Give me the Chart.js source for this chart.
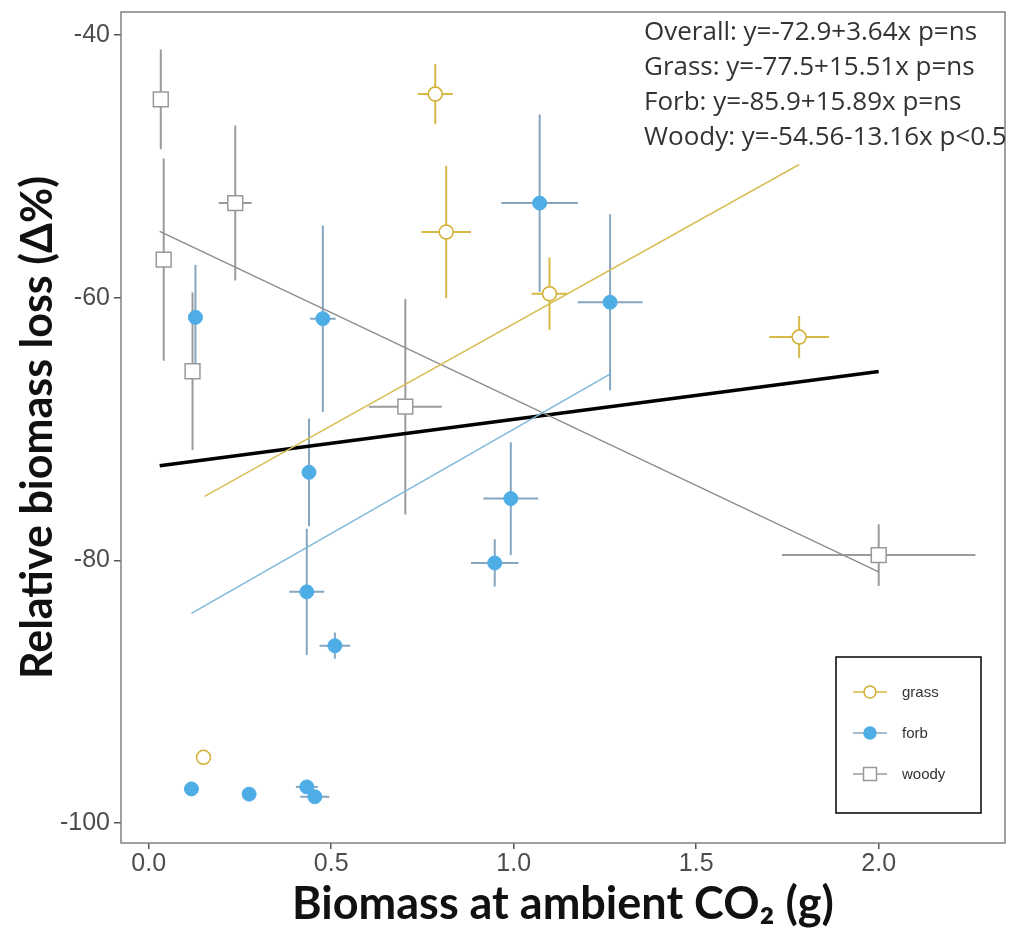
<!DOCTYPE html>
<html>
<head>
<meta charset="utf-8">
<script src="https://cdn.jsdelivr.net/npm/chart.js@4.4.0/dist/chart.umd.min.js"></script>
<style>
html, body { margin: 0; padding: 0; background: #fff; }
</style>
</head>
<body>
<canvas id="chart" width="1017" height="930"></canvas>
<script>
// tick labels
const xTicks = [0, 0.5, 1, 1.5, 2];
const yTicks = [-100, -80, -60, -40];

// grass (open circles)
const grassX = [0.785, 0.815, 1.098, 1.782, 0.15];
const grassY = [-44.5, -55.0, -59.7, -63.0, -95.0];
const grassXErr = [0.048, 0.068, 0.049, 0.082, 0];
const grassYErr = [2.3, 5.05, 2.75, 1.6, 0];

// forb (filled circles)
const forbX = [0.128, 0.477, 0.439, 0.433, 0.51, 0.992, 0.948, 1.071, 1.264, 0.117, 0.275, 0.433, 0.455];
const forbY = [-61.5, -61.6, -73.3, -82.4, -86.5, -75.3, -80.2, -52.8, -60.35, -97.4, -97.8, -97.25, -98.0];
const forbXErr = [0, 0.035, 0, 0.048, 0.042, 0.075, 0.065, 0.105, 0.089, 0, 0, 0.03, 0.04];
const forbYErr = [4.0, 7.1, 4.1, 4.8, 1.0, 4.3, 1.8, 6.75, 6.7, 0, 0, 0, 0];

// woody (open squares)
const woodyX = [0.033, 0.041, 0.237, 0.12, 0.703, 2.0];
const woodyY = [-44.9, -57.1, -52.8, -65.6, -68.3, -79.6];
const woodyXErr = [0, 0, 0.045, 0, 0.1, 0.265];
const woodyYErr = [3.8, 7.7, 5.9, 6.0, 8.2, 2.35];

// fitted lines, end points
const overallFitX = [0.03, 2.0];
const overallFitY = [-72.79, -65.62];
const grassFitX = [0.153, 1.782];
const grassFitY = [-75.13, -49.86];
const forbFitX = [0.117, 1.264];
const forbFitY = [-84.04, -65.82];
const woodyFitX = [0.03, 2.0];
const woodyFitY = [-54.95, -80.88];

const notes = [
	"Overall: y=-72.9+3.64x p=ns",
	"Grass: y=-77.5+15.51x p=ns",
	"Forb: y=-85.9+15.89x p=ns",
	"Woody: y=-54.56-13.16x p<0.5",
];

const grassCol = "#D1AE2E";
const forbCol = "#4FADE6";
const woodyCol = "#999999";

const pts = (xs, ys) => xs.map((x, i) => ({ x: x, y: ys[i] }));

const groups = [
	{ x: woodyX, y: woodyY, xe: woodyXErr, ye: woodyYErr, color: "#9B9B9B" },
	{ x: grassX, y: grassY, xe: grassXErr, ye: grassYErr, color: "#D6BA45" },
	{ x: forbX, y: forbY, xe: forbXErr, ye: forbYErr, color: "#86A6C0" },
];

const errorBars = {
	id: "errorBars",
	beforeDatasetsDraw(chart) {
		const { ctx, chartArea, scales } = chart;
		const sx = scales.x, sy = scales.y;
		ctx.save();
		ctx.beginPath();
		ctx.rect(chartArea.left, chartArea.top, chartArea.width, chartArea.height);
		ctx.clip();
		ctx.lineWidth = 2;
		groups.forEach(g => {
			ctx.strokeStyle = g.color;
			g.x.forEach((xv, i) => {
				const px = sx.getPixelForValue(xv);
				const py = sy.getPixelForValue(g.y[i]);
				ctx.beginPath();
				if (g.ye[i]) {
					ctx.moveTo(px, sy.getPixelForValue(g.y[i] + g.ye[i]));
					ctx.lineTo(px, sy.getPixelForValue(g.y[i] - g.ye[i]));
				}
				if (g.xe[i]) {
					ctx.moveTo(sx.getPixelForValue(xv - g.xe[i]), py);
					ctx.lineTo(sx.getPixelForValue(xv + g.xe[i]), py);
				}
				ctx.stroke();
			});
		});
		ctx.restore();
	},
};

const extras = {
	id: "extras",
	afterDraw(chart) {
		const { ctx, chartArea: a } = chart;
		ctx.save();
		// panel border
		ctx.strokeStyle = "#808080";
		ctx.lineWidth = 1.5;
		ctx.strokeRect(a.left, a.top, a.width, a.height);

		// equations
		ctx.fillStyle = "#333";
		ctx.font = "26px 'Open Sans'";
		ctx.textBaseline = "middle";
		ctx.textAlign = "left";
		notes.forEach((t, i) => ctx.fillText(t, 644, 33 + i * 34.7));

		// legend
		const bx = a.right - 169, by = a.bottom - 186;
		ctx.strokeStyle = "#000";
		ctx.lineWidth = 1.5;
		ctx.strokeRect(bx, by, 145, 156);
		const items = [
			{ label: "grass", line: "#D6BA45", kind: "circle", fill: "#fff", stroke: grassCol },
			{ label: "forb", line: "#86A6C0", kind: "circle", fill: forbCol, stroke: forbCol },
			{ label: "woody", line: "#9B9B9B", kind: "rect", fill: "#fff", stroke: woodyCol },
		];
		items.forEach((it, i) => {
			const cx = bx + 34, cy = by + 35 + i * 41;
			ctx.strokeStyle = it.line;
			ctx.lineWidth = 1.5;
			ctx.beginPath();
			ctx.moveTo(cx - 17, cy);
			ctx.lineTo(cx + 17, cy);
			ctx.stroke();
			ctx.fillStyle = it.fill;
			ctx.strokeStyle = it.stroke;
			ctx.beginPath();
			if (it.kind === "circle") ctx.arc(cx, cy, 6, 0, Math.PI * 2);
			else ctx.rect(cx - 6.5, cy - 6.5, 13, 13);
			ctx.fill();
			ctx.stroke();
			ctx.fillStyle = "#333";
			ctx.font = "15px 'Liberation Sans'";
			ctx.fillText(it.label, bx + 66, cy + 1);
		});
		ctx.restore();
	},
};

const fitLine = (xs, ys, color, width) => ({
	data: pts(xs, ys),
	showLine: true,
	borderColor: color,
	borderWidth: width,
	pointRadius: 0,
	order: 1,
});

new Chart(document.getElementById("chart"), {
	type: "scatter",
	data: {
		datasets: [
			{
				label: "forb",
				data: pts(forbX, forbY),
				pointStyle: "circle",
				pointRadius: 7,
				backgroundColor: forbCol,
				borderColor: forbCol,
				borderWidth: 1,
				order: 0,
			},
			{
				label: "grass",
				data: pts(grassX, grassY),
				pointStyle: "circle",
				pointRadius: 7,
				backgroundColor: "#fff",
				borderColor: grassCol,
				borderWidth: 1.5,
				order: 0,
			},
			{
				label: "woody",
				data: pts(woodyX, woodyY),
				pointStyle: "rect",
				pointRadius: 10.5,
				backgroundColor: "#fff",
				borderColor: woodyCol,
				borderWidth: 1.5,
				order: 0,
			},
			fitLine(grassFitX, grassFitY, "#D9BE55", 1.5),
			fitLine(forbFitX, forbFitY, "#7DB8DC", 1.5),
			fitLine(woodyFitX, woodyFitY, "#8E8E8E", 1.5),
			fitLine(overallFitX, overallFitY, "#000", 3.5),
		],
	},
	options: {
		responsive: false,
		animation: false,
		layout: { padding: { top: 10, right: 7, left: 0, bottom: 0 } },
		plugins: { legend: { display: false }, tooltip: { enabled: false } },
		scales: {
			x: {
				type: "linear",
				min: -0.076,
				max: 2.346,
				afterBuildTicks: s => { s.ticks = xTicks.map(v => ({ value: v })); },
				afterFit: s => {
					s.height = 87;
					s.paddingLeft = 0;
					s.paddingRight = 0;
				},
				grid: { drawOnChartArea: false, tickLength: 6, color: "#555", lineWidth: 1.5 },
				border: { display: false },
				ticks: {
					font: { family: "Liberation Sans", size: 25 },
					color: "#4D4D4D",
					padding: 0,
					maxRotation: 0,
					callback: v => Number(v).toFixed(1),
				},
				title: {
					display: true,
					text: "Biomass at ambient CO₂ (g)",
					font: { family: "Lato", size: 45, weight: "bold", lineHeight: 1.15 },
					color: "#111",
					padding: { top: 0, bottom: 0 },
				},
			},
			y: {
				type: "linear",
				min: -101.52,
				max: -38.25,
				afterBuildTicks: s => { s.ticks = yTicks.map(v => ({ value: v })); },
				afterFit: s => {
					s.width = 121;
					s.paddingTop = 0;
					s.paddingBottom = 0;
				},
				grid: { drawOnChartArea: false, tickLength: 7, color: "#555", lineWidth: 1.5 },
				border: { display: false },
				ticks: {
					font: { family: "Liberation Sans", size: 25 },
					color: "#4D4D4D",
					padding: 4,
					callback: v => String(v),
				},
				title: {
					display: true,
					text: "Relative biomass loss (Δ%)",
					font: { family: "Lato", size: 43, weight: "bold", lineHeight: 1.15 },
					color: "#111",
					padding: { top: 13, bottom: 0 },
				},
			},
		},
	},
	plugins: [errorBars, extras],
});
</script>
</body>
</html>
